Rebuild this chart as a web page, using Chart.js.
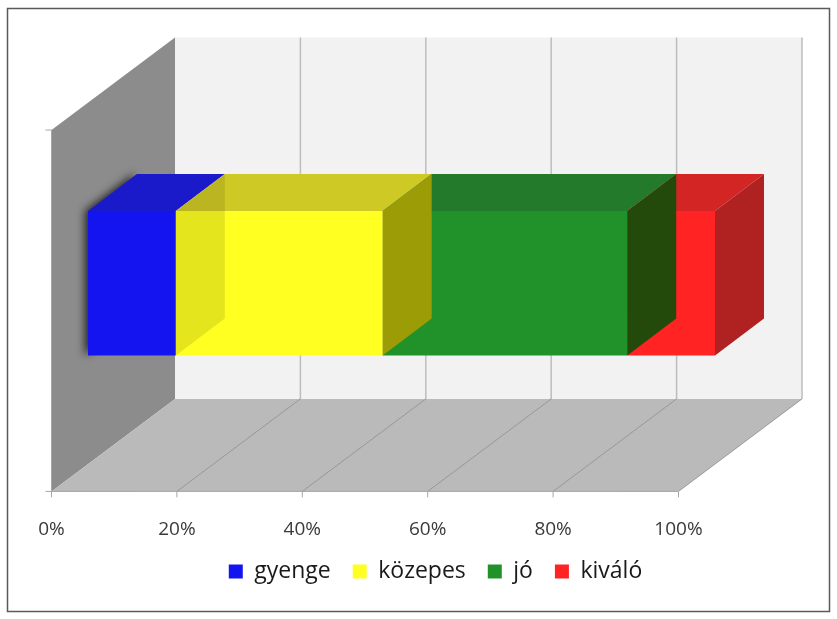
<!DOCTYPE html>
<html><head><meta charset="utf-8">
<script src="https://cdn.jsdelivr.net/npm/chart.js@4.4.1/dist/chart.umd.min.js"></script>
<style>html,body{margin:0;padding:0;background:#fff}#wrap{width:837px;height:619px;position:relative}</style>
</head><body><div id="wrap"><canvas id="c" width="837" height="619"></canvas></div>
<script>
// ---- data ----
const categories = [''];
const seriesNames = ['gyenge', 'közepes', 'jó', 'kiváló'];
const gyenge = [14];
const kozepes = [33];
const jo = [39];
const kivalo = [14];
const tickValues = [0, 20, 40, 60, 80, 100];

// ---- styles ----
const frontColors = ['#1414F0', '#FFFF22', '#21922A', '#FF2323'];
const topColors   = ['#1A1ACB', '#CFC925', '#237A2A', '#D42525'];
const sideColors  = ['rgba(40,40,0,0.12)', '#9C9C06', '#234A0A', '#B02222'];
const GEO = { depth: {x: 123.5, y: -92.5}, frontOff: {x: -36.5, y: 27.4}, barDepth: {x: 49, y: -37} };

function poly(ctx, pts, fill) {
  ctx.beginPath(); ctx.moveTo(pts[0][0], pts[0][1]);
  for (let i = 1; i < pts.length; i++) ctx.lineTo(pts[i][0], pts[i][1]);
  ctx.closePath(); ctx.fillStyle = fill; ctx.fill();
}
function line(ctx, x1, y1, x2, y2, col, lw) {
  ctx.beginPath(); ctx.moveTo(x1, y1); ctx.lineTo(x2, y2);
  ctx.strokeStyle = col; ctx.lineWidth = lw; ctx.stroke();
}

const frame3d = {
  id: 'frame3d',
  beforeDraw(chart) {
    const ctx = chart.ctx;
    ctx.save();
    ctx.fillStyle = '#fff'; ctx.fillRect(0, 0, chart.width, chart.height);
    ctx.strokeStyle = '#5a5a5a'; ctx.lineWidth = 1.5;
    ctx.strokeRect(7.5, 8.5, 822, 603);
    ctx.restore();
  },
  beforeDatasetsDraw(chart) {
    const ctx = chart.ctx, xs = chart.scales.x, ca = chart.chartArea;
    const fx = v => xs.getPixelForValue(v) + GEO.frontOff.x;
    const fyT = ca.top + GEO.frontOff.y, fyB = ca.bottom + GEO.frontOff.y;
    const bx = v => fx(v) + GEO.depth.x;
    const byT = fyT + GEO.depth.y, byB = fyB + GEO.depth.y;
    const v0 = tickValues[0], vN = tickValues[tickValues.length - 1];
    ctx.save();
    // back wall
    ctx.fillStyle = '#F2F2F2';
    ctx.fillRect(bx(v0), byT, bx(vN) - bx(v0), byB - byT);
    // left wall
    poly(ctx, [[fx(v0), fyT], [bx(v0), byT], [bx(v0), byB], [fx(v0), fyB]], '#8C8C8C');
    // floor
    poly(ctx, [[fx(v0), fyB], [fx(vN), fyB], [bx(vN), byB], [bx(v0), byB]], '#BABABA');
    // back wall gridlines
    tickValues.slice(1).forEach(v => line(ctx, bx(v), byT, bx(v), byB, '#BDBDBD', 1.5));
    // floor gridlines
    tickValues.slice(1).forEach(v => line(ctx, fx(v), fyB, bx(v), byB, '#8E8E8E', 0.8));
    // front floor edge + ticks
    line(ctx, fx(v0), fyB, fx(vN), fyB, '#A6A6A6', 1);
    tickValues.forEach(v => line(ctx, fx(v), fyB, fx(v), fyB + 6, '#A6A6A6', 1));
    // left axis + ticks
    line(ctx, fx(v0), fyT, fx(v0), fyB, '#A6A6A6', 1);
    line(ctx, fx(v0) - 6, fyT, fx(v0), fyT, '#A6A6A6', 1);
    line(ctx, fx(v0) - 6, fyB, fx(v0), fyB, '#A6A6A6', 1);
    // shadow of the first bar on the left wall
    const m0 = chart.getDatasetMeta(0);
    if (m0 && m0.data[0]) {
      const b = m0.data[0];
      const left = Math.min(b.x, b.base), top = b.y - b.height / 2, bottom = b.y + b.height / 2;
      const d = GEO.barDepth;
      ctx.save();
      ctx.shadowColor = 'rgba(0,0,0,0.75)'; ctx.shadowBlur = 9; ctx.shadowOffsetX = -3;
      poly(ctx, [[left, top], [left + d.x, top + d.y], [left + d.x, bottom + d.y], [left, bottom]], '#555');
      ctx.restore();
    }
    ctx.restore();
  },
  afterDatasetsDraw(chart) {
    const ctx = chart.ctx, d = GEO.barDepth;
    ctx.save();
    const boxes = [];
    chart.data.datasets.forEach((ds, i) => {
      chart.getDatasetMeta(i).data.forEach(b => {
        const left = Math.min(b.x, b.base), right = Math.max(b.x, b.base);
        const top = b.y - b.height / 2, bottom = b.y + b.height / 2;
        boxes.push({i, left, right, top, bottom});
      });
    });
    boxes.forEach(q => poly(ctx, [[q.left, q.top], [q.right, q.top], [q.right + d.x, q.top + d.y], [q.left + d.x, q.top + d.y]], topColors[q.i]));
    boxes.forEach(q => poly(ctx, [[q.right, q.top], [q.right, q.bottom], [q.right + d.x, q.bottom + d.y], [q.right + d.x, q.top + d.y]], sideColors[q.i]));
    ctx.restore();
  }
};

const seriesValues = [gyenge, kozepes, jo, kivalo];
const LEGEND_PAD_BOTTOM = 26, PLOT_BOTTOM = 464;

new Chart(document.getElementById('c'), {
  type: 'bar',
  data: {
    labels: categories,
    datasets: seriesNames.map((n, i) => ({
      label: n, data: seriesValues[i], backgroundColor: frontColors[i],
      borderWidth: 0, barPercentage: 0.4, categoryPercentage: 1
    }))
  },
  options: {
    indexAxis: 'y', responsive: false, animation: false, devicePixelRatio: 1,
    layout: { padding: { left: 34, right: 0, top: 102.6, bottom: LEGEND_PAD_BOTTOM } },
    scales: {
      x: {
        stacked: true, min: 0, max: 100, position: 'bottom',
        grid: { display: false, drawTicks: false }, border: { display: false },
        afterBuildTicks: s => { s.ticks = tickValues.map(v => ({ value: v })); },
        ticks: {
          callback: v => v + '%', padding: 54, labelOffset: -36.5, autoSkip: false, maxRotation: 0,
          color: '#3A3A3A', font: { family: 'Open Sans', size: 19 }
        },
        afterFit: s => { s.height = s.chart.height - LEGEND_PAD_BOTTOM - s.chart.legend.height - PLOT_BOTTOM; }
      },
      y: {
        stacked: true, position: 'left',
        grid: { display: false, drawTicks: false }, border: { display: false },
        ticks: { display: false },
        afterFit: s => { s.width = 54; }
      },
      yR: {
        type: 'category', position: 'right',
        grid: { display: false, drawTicks: false }, border: { display: false },
        ticks: { display: false },
        afterFit: s => { s.width = 122; }
      }
    },
    plugins: {
      tooltip: { enabled: false },
      legend: {
        position: 'bottom',
        labels: {
          boxWidth: 14, boxHeight: 14, padding: 22, color: '#1A1A1A',
          font: { family: 'Open Sans', size: 23 }
        }
      }
    }
  },
  plugins: [frame3d]
});
</script></body></html>
